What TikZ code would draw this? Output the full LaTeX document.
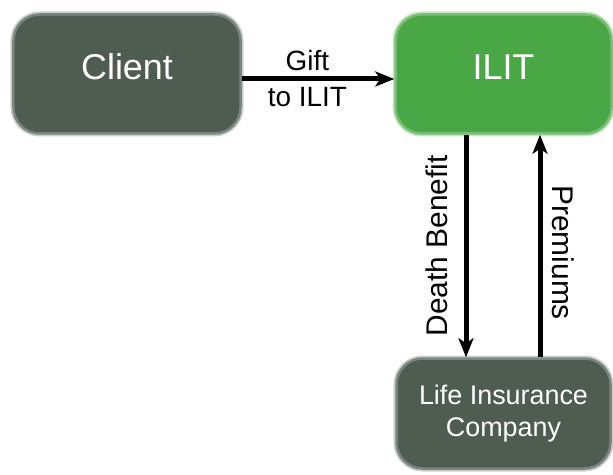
\documentclass[tikz,border=0pt]{standalone}
\usepackage{fontspec}
\setmainfont{Liberation Sans}
\usetikzlibrary{arrows.meta}
\definecolor{darkbox}{RGB}{79,92,82}
\definecolor{greenbox}{RGB}{73,168,69}
\tikzset{box/.style={draw, rounded corners=26bp, line width=2.5bp, text=white, inner sep=0pt},
         party/.style={box, fill=darkbox, draw=darkbox!75!white, preaction={draw=darkbox!30!white, line width=6bp}},
         trust/.style={box, fill=greenbox, draw=greenbox!75!white, preaction={draw=greenbox!30!white, line width=6bp}},
         bigtext/.style={font=\fontsize{36}{40}\selectfont, text height=25bp, text depth=13bp},
         flow/.style={-{Stealth[length=19bp,width=15bp,inset=5bp]}, line width=5bp},
         lbl/.style={font=\fontsize{28}{30}\selectfont, inner sep=6bp},
         vlbl/.style={font=\fontsize{30}{32}\selectfont, anchor=south},
        }
\begin{document}
\begin{tikzpicture}[x=1bp,y=-1bp]
        \useasboundingbox (0,0) rectangle (613,475);
        \node[party, bigtext, minimum width=227bp, minimum height=119bp](client)at(127,74){Client};
        \node[trust, bigtext, minimum width=216bp, minimum height=119bp](ilit)at(503.5,74){ILIT};
        \node[party, align=center, font=\fontsize{27}{32}\selectfont, minimum width=214bp, minimum height=110bp](insurer)at(503.5,413.5){Life Insurance\\Company};

        \draw[flow]([yshift=-5bp]client.east)--([yshift=-5bp]ilit.west)
            node[lbl, pos=0.43, above]{Gift} node[lbl, pos=0.43, below]{to ILIT};

        \draw[flow]([xshift=-37.5bp]ilit.south)--([xshift=-37.5bp]insurer.north)
            node[vlbl, midway, rotate=90, inner sep=16bp]{Death Benefit};
        \draw[flow]([xshift=36.5bp]insurer.north)--([xshift=36.5bp]ilit.south)
            node[vlbl, pos=0.47, rotate=-90, inner sep=10bp]{Premiums};
    \end{tikzpicture}
\end{document}
